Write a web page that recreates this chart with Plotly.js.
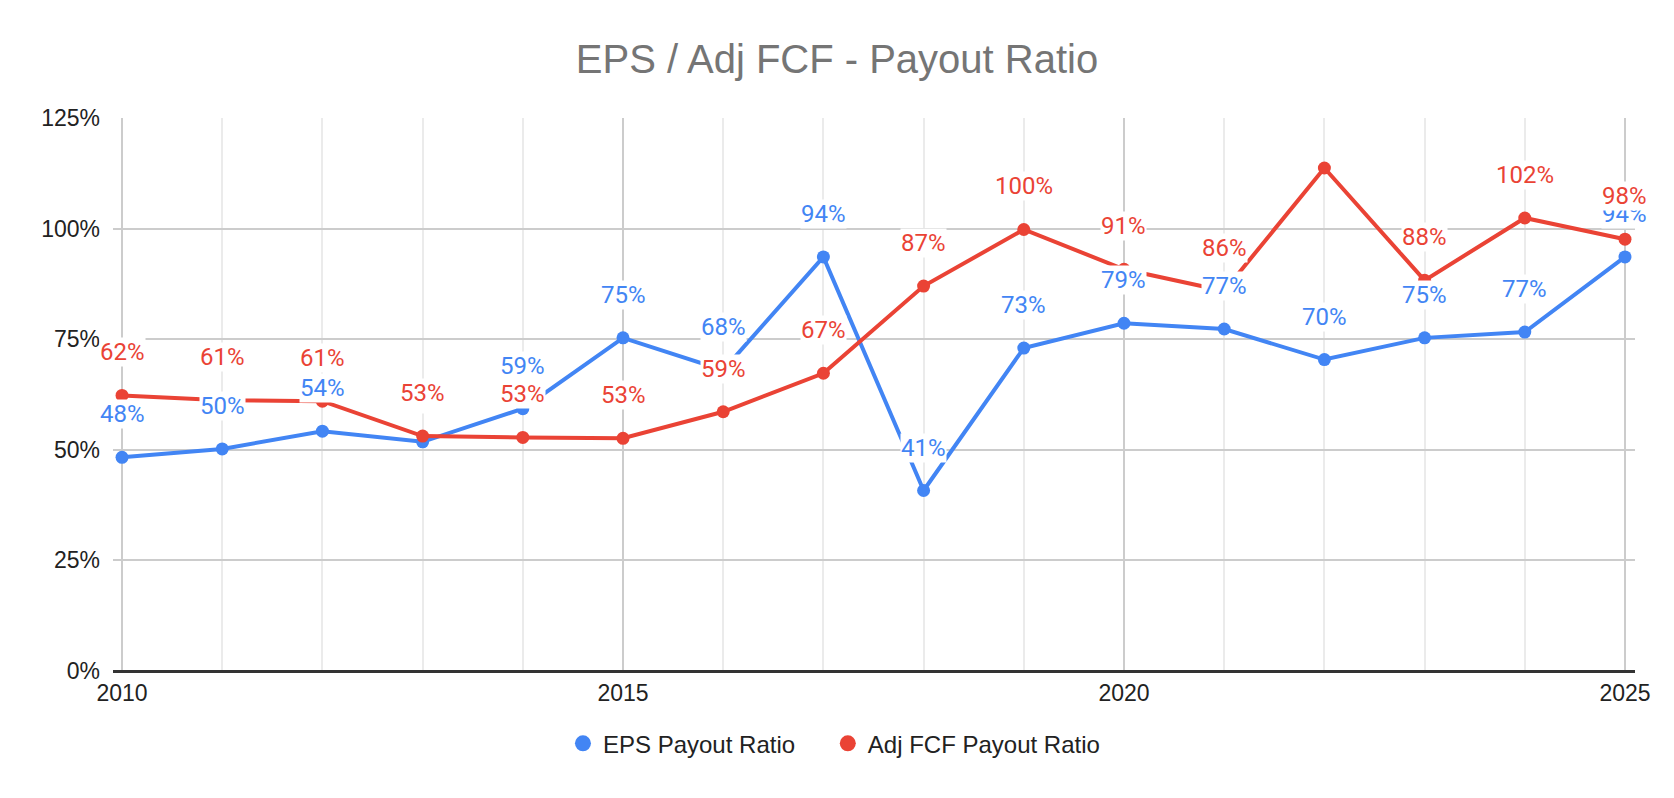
<!DOCTYPE html>
<html>
<head>
<meta charset="utf-8">
<script src="https://cdn.plot.ly/plotly-3.0.1.min.js"></script>
<style>
  html, body { margin: 0; padding: 0; background: #fff; }
  #chart { width: 1674px; height: 798px; }
</style>
</head>
<body>
<div id="chart"></div>
<script>
const years = [2010, 2011, 2012, 2013, 2014, 2015, 2016, 2017, 2018, 2019, 2020, 2021, 2022, 2023, 2024, 2025];
const epsPayout = [48.3, 50.2, 54.2, 51.8, 59.3, 75.3, 68.0, 93.6, 40.8, 73.0, 78.6, 77.3, 70.4, 75.3, 76.6, 93.6];
const fcfPayout = [62.3, 61.2, 61.0, 53.1, 52.8, 52.6, 58.6, 67.3, 87.0, 99.8, 90.8, 85.9, 113.7, 88.3, 102.4, 97.6];
const fcfHiddenLabels = [2022];
const xTicks = [2010, 2015, 2020, 2025];

const BLUE = '#4285f4';
const RED = '#ea4335';
const chartDiv = document.getElementById('chart');

// data labels sit above each point on a white patch, like the sheet's halo
function labels(vals, color, skip) {
  return vals.map((v, i) => ({
    x: years[i], y: v,
    text: skip.includes(years[i]) ? '' : Math.round(v) + '%',
    showarrow: false,
    yshift: 43,
    yanchor: 'middle',
    bgcolor: '#ffffff',
    borderpad: 0,
    font: { family: 'Roboto', size: 24, color: color },
  })).filter(a => a.text);
}

const line = (name, y, color) => ({
  x: years, y: y,
  type: 'scatter',
  mode: 'lines+markers',
  name: name,
  line: { color: color, width: 4 },
  marker: { color: color, size: 13 },
  showlegend: false,
  hoverinfo: 'skip',
});

// legend-only entries so the key shows a plain dot
const legendItem = (name, color, legend) => ({
  x: [null], y: [null],
  type: 'scatter',
  mode: 'markers',
  name: name,
  legend: legend,
  marker: { color: color, size: 25 },
});

const legendBox = (x) => ({
  orientation: 'h',
  xref: 'container', x: x, xanchor: 'left',
  yref: 'container', y: 0.068, yanchor: 'middle',
  font: { size: 24, color: '#222' },
  itemsizing: 'trace',
});

Plotly.newPlot(chartDiv, [
  line('EPS Payout Ratio', epsPayout, BLUE),
  line('Adj FCF Payout Ratio', fcfPayout, RED),
  legendItem('EPS Payout Ratio', BLUE, 'legend'),
  legendItem('Adj FCF Payout Ratio', RED, 'legend2'),
], {
  width: 1674,
  height: 798,
  paper_bgcolor: '#fff',
  plot_bgcolor: '#fff',
  margin: { t: 118, r: 39, b: 127, l: 113 },
  font: { family: 'Arial, Liberation Sans', color: '#222' },
  title: {
    text: 'EPS / Adj FCF - Payout Ratio',
    font: { family: 'Arial, Liberation Sans', size: 40, color: '#757575' },
    x: 0.5, xanchor: 'center',
    yref: 'container', y: 0.926, yanchor: 'middle',
  },
  xaxis: {
    range: [2009.91, 2025.1],
    tickvals: xTicks,
    tickfont: { size: 23, color: '#222' },
    showgrid: true,
    gridcolor: '#cccccc',
    gridwidth: 2,
    minor: { dtick: 1, tick0: 2010, showgrid: true, gridcolor: '#ebebeb', gridwidth: 2 },
    zeroline: false,
    showline: false,
    ticks: '',
    ticklabelstandoff: 6,
    fixedrange: true,
  },
  yaxis: {
    range: [0, 125],
    dtick: 25,
    ticksuffix: '%',
    tickfont: { size: 23, color: '#222' },
    gridcolor: '#cccccc',
    gridwidth: 2,
    zeroline: true,
    zerolinecolor: '#333333',
    zerolinewidth: 3,
    ticks: '',
    ticklabelstandoff: 12,
    fixedrange: true,
  },
  legend: legendBox(0.3363),
  legend2: legendBox(0.4945),
  annotations: [
    ...labels(epsPayout, BLUE, []),
    ...labels(fcfPayout, RED, fcfHiddenLabels),
  ],
  hovermode: false,
}, { displayModeBar: false, staticPlot: true });
</script>
</body>
</html>
